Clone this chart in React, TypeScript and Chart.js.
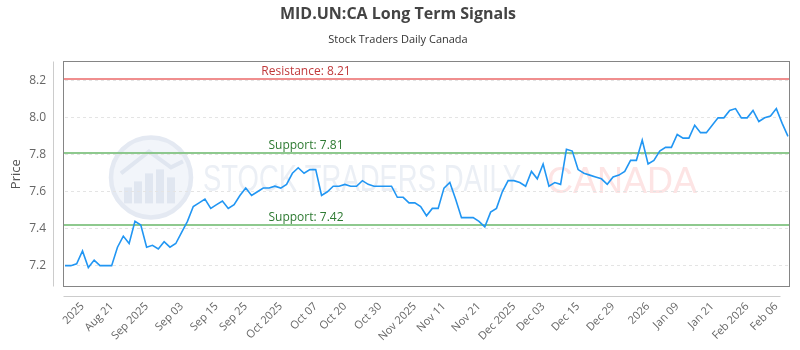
import { useEffect, useRef } from 'react';
import { Chart, registerables } from 'chart.js';

Chart.register(...registerables);

const prices = [
  7.20, 7.20, 7.21, 7.28, 7.19, 7.23, 7.20, 7.20, 7.20, 7.30,
  7.36, 7.32, 7.44, 7.42, 7.30, 7.31, 7.29, 7.33, 7.30, 7.32,
  7.38, 7.44, 7.52, 7.54, 7.56, 7.51, 7.53, 7.55, 7.51, 7.53,
  7.58, 7.62, 7.58, 7.60, 7.62, 7.62, 7.63, 7.62, 7.64, 7.70,
  7.73, 7.70, 7.72, 7.72, 7.58, 7.60, 7.63, 7.63, 7.64, 7.63,
  7.63, 7.66, 7.64, 7.63, 7.63, 7.63, 7.63, 7.57, 7.57, 7.54,
  7.54, 7.52, 7.47, 7.51, 7.51, 7.62, 7.65, 7.56, 7.46, 7.46,
  7.46, 7.44, 7.41, 7.49, 7.51, 7.60, 7.66, 7.66, 7.65, 7.63,
  7.71, 7.67, 7.75, 7.63, 7.65, 7.64, 7.83, 7.82, 7.72, 7.70,
  7.69, 7.68, 7.67, 7.64, 7.68, 7.69, 7.71, 7.77, 7.77, 7.88,
  7.75, 7.77, 7.82, 7.84, 7.84, 7.91, 7.89, 7.89, 7.96, 7.92,
  7.92, 7.96, 8.00, 8.00, 8.04, 8.05, 8.00, 8.00, 8.04, 7.98,
  8.00, 8.01, 8.05, 7.97, 7.90,
];

const tickIndex = [3, 8, 14, 20, 26, 31, 37, 43, 48, 54, 60, 65, 71, 77, 82, 88, 94, 100, 105, 111, 117, 122];
const tickLabels = [
  '2025', 'Aug 21', 'Sep 2025', 'Sep 03', 'Sep 15', 'Sep 25', 'Oct 2025', 'Oct 07', 'Oct 20', 'Oct 30',
  'Nov 2025', 'Nov 11', 'Nov 21', 'Dec 2025', 'Dec 03', 'Dec 15', 'Dec 29', '2026', 'Jan 09', 'Jan 21',
  'Feb 2026', 'Feb 06',
];
const yTicks = [7.2, 7.4, 7.6, 7.8, 8.0, 8.2];
const resistanceLevels = [8.21];
const supportLevels = [7.81, 7.42];

const TITLE = 'MID.UN:CA Long Term Signals';
const SUBTITLE = 'Stock Traders Daily Canada';

const decoPlugin = {
  id: 'deco',
  beforeDraw(chart: any) {
    const { ctx, chartArea: a } = chart;
    ctx.save();
    // watermark logo
    const cx = a.left + 86;
    const cy = a.top + 115;
    ctx.beginPath();
    ctx.arc(cx, cy, 40, 0, Math.PI * 2);
    ctx.fillStyle = '#f2f5fa';
    ctx.fill();
    ctx.lineWidth = 4.5;
    ctx.strokeStyle = '#e4e9f2';
    ctx.stroke();
    ctx.fillStyle = '#e0e6f0';
    const bars = [[-27, 16], [-17, 22], [-6, 30], [5, 34], [16, 26]];
    bars.forEach(([dx, h]) => ctx.fillRect(cx + dx, cy + 26 - h, 8, h));
    ctx.beginPath();
    ctx.moveTo(cx - 30, cy - 4);
    ctx.lineTo(cx - 2, cy - 26);
    ctx.lineTo(cx + 20, cy - 10);
    ctx.lineTo(cx + 32, cy - 16);
    ctx.strokeStyle = '#e0e6f0';
    ctx.lineWidth = 4;
    ctx.stroke();
    // watermark text (condensed horizontally)
    ctx.textAlign = 'left';
    ctx.textBaseline = 'alphabetic';
    const tx = a.left + 138;
    const ty = a.top + 129;
    ctx.font = '37px "Liberation Sans", Arial, sans-serif';
    const t1 = 'STOCK TRADERS DAILY';
    const w1 = ctx.measureText(t1).width;
    const sx = 318 / w1;
    ctx.save();
    ctx.translate(tx, ty);
    ctx.scale(sx, 1);
    ctx.fillStyle = '#ebeff5';
    ctx.fillText(t1, 0, 0);
    ctx.restore();
    ctx.font = '36px "Liberation Sans", Arial, sans-serif';
    ctx.fillStyle = '#fde4e4';
    ctx.fillText('CANADA', tx + 318 + 26, ty + 2);
    ctx.restore();
  },
  beforeDatasetsDraw(chart: any) {
    const { ctx, chartArea: a, scales } = chart;
    const y = scales.y;
    const lx = a.left + (a.right - a.left) / 3;
    ctx.save();
    const drawLevel = (v: number, line: string, txt: string, label: string) => {
      const py = y.getPixelForValue(v);
      ctx.beginPath();
      ctx.moveTo(a.left - 2, py);
      ctx.lineTo(a.right + 2, py);
      ctx.strokeStyle = line;
      ctx.lineWidth = 2;
      ctx.stroke();
      ctx.font = '12px "Open Sans", sans-serif';
      ctx.textAlign = 'center';
      ctx.textBaseline = 'alphabetic';
      ctx.fillStyle = txt;
      ctx.fillText(label, lx, py - 4);
    };
    resistanceLevels.forEach((v) => drawLevel(v, 'rgba(238,130,130,0.9)', '#c0393b', `Resistance: ${v.toFixed(2)}`));
    supportLevels.forEach((v) => drawLevel(v, 'rgba(130,195,130,0.9)', '#2e7a32', `Support: ${v.toFixed(2)}`));
    ctx.restore();
  },
  afterDraw(chart: any) {
    const { ctx, chartArea: a } = chart;
    ctx.save();
    ctx.strokeStyle = '#858585';
    ctx.lineWidth = 1;
    const l = Math.round(a.left - 2) + 0.5;
    const r = Math.round(a.right + 2) - 0.5;
    const t = Math.round(a.top) - 0.5;
    const b = Math.round(a.bottom) + 0.5;
    ctx.strokeRect(l, t, r - l, b - t);
    ctx.strokeStyle = '#cccccc';
    ctx.beginPath();
    ctx.moveTo(Math.round(a.left - 12) + 0.5, t);
    ctx.lineTo(Math.round(a.left - 12) + 0.5, b);
    ctx.moveTo(l, Math.round(a.bottom + 10) + 0.5);
    ctx.lineTo(r - 9, Math.round(a.bottom + 10) + 0.5);
    ctx.stroke();
    ctx.restore();
  },
};

export default function App() {
  const ref = useRef<HTMLCanvasElement>(null);

  useEffect(() => {
    if (!ref.current) return;
    const chart = new Chart(ref.current, {
      type: 'line',
      data: {
        labels: prices.map((_, i) => String(i)),
        datasets: [
          {
            label: 'Price',
            data: prices,
            borderColor: '#2196f3',
            borderWidth: 1.6,
            pointRadius: 0,
            tension: 0,
            fill: false,
          },
        ],
      },
      options: {
        animation: false,
        responsive: false,
        devicePixelRatio: 1,
        layout: { padding: { left: 8, right: 12, top: 0, bottom: 0 } },
        plugins: {
          legend: { display: false },
          tooltip: { enabled: false },
          title: {
            display: true,
            text: TITLE,
            color: '#444',
            font: { family: '"Open Sans", sans-serif', size: 16, weight: 'bold' },
            padding: { top: 5, bottom: 9 },
          },
          subtitle: {
            display: true,
            text: SUBTITLE,
            color: '#333',
            font: { family: '"Open Sans", sans-serif', size: 11 },
            padding: { top: 0, bottom: 16 },
          },
        },
        scales: {
          x: {
            type: 'category',
            offset: false,
            grid: { display: false, drawTicks: false },
            border: { display: false },
            afterBuildTicks: (s: any) => {
              s.ticks = tickIndex.map((v) => ({ value: v }));
            },
            afterFit: (s: any) => {
              s.height = 64;
            },
            ticks: {
              autoSkip: false,
              maxRotation: 45,
              minRotation: 45,
              padding: 14,
              color: '#666',
              font: { family: '"Open Sans", sans-serif', size: 11 },
              callback: (_v: any, i: number) => tickLabels[i],
            },
          },
          y: {
            min: 7.09,
            max: 8.3,
            afterBuildTicks: (s: any) => {
              s.ticks = yTicks.map((v) => ({ value: v }));
            },
            afterFit: (s: any) => {
              s.width = 57;
            },
            grid: { color: '#e4e4e4', drawTicks: false },
            border: { display: false, dash: [3, 3] },
            ticks: {
              padding: 19,
              color: '#666',
              font: { family: '"Open Sans", sans-serif', size: 12 },
              callback: (v: any) => Number(v).toFixed(1),
            },
            title: {
              display: true,
              text: 'Price',
              color: '#555',
              font: { family: '"Open Sans", sans-serif', size: 13 },
              padding: { top: 0, bottom: 0 },
            },
          },
        },
      },
      plugins: [decoPlugin],
    });
    return () => chart.destroy();
  }, []);

  return (
    <div style={{ position: 'absolute', left: 0, top: 0, width: 800, height: 350, background: '#fff' }}>
      <canvas ref={ref} width={800} height={350} />
    </div>
  );
}
